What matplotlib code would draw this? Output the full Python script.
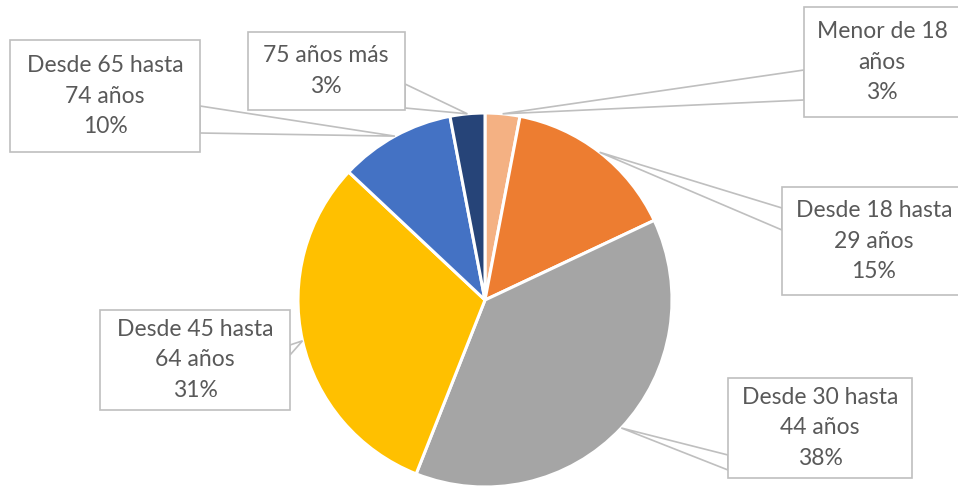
import numpy as np
import matplotlib
matplotlib.use("Agg")
import matplotlib.pyplot as plt
from matplotlib.patches import Rectangle, Polygon

labels = ["Menor de 18\naños", "Desde 18 hasta\n29 años", "Desde 30 hasta\n44 años",
          "Desde 45 hasta\n64 años", "Desde 65 hasta\n74 años", "75 años más"]
values = [3, 15, 38, 31, 10, 3]
colors = ["#F4B183", "#ED7D31", "#A5A5A5", "#FFC000", "#4472C4", "#264478"]

W, H = 958, 491
fig = plt.figure(figsize=(W / 100, H / 100), dpi=100)
ax = fig.add_axes([0, 0, 1, 1])

cx, cy, r = 485, H - 300, 187
wedges, _ = ax.pie(values, colors=colors, startangle=90, counterclock=False,
                   center=(cx, cy), radius=r, frame=True,
                   wedgeprops=dict(edgecolor="white", linewidth=2.2))
ax.set_xlim(0, W)
ax.set_ylim(0, H)
ax.set_aspect("equal")
ax.axis("off")

# box layout in image pixel coordinates
boxes = [
    dict(x0=804, y0=7, x1=962, y1=117, tx=882, lead=[(804, 70), (804, 100)]),
    dict(x0=782, y0=187, x1=966, y1=295, tx=874, lead=[(782, 208), (782, 230)]),
    dict(x0=728, y0=378, x1=912, y1=478, tx=820, lead=[(728, 455), (728, 470)]),
    dict(x0=100, y0=310, x1=290, y1=410, tx=195, lead=[(290, 345), (290, 355)]),
    dict(x0=10, y0=40, x1=200, y1=152, tx=105, lead=[(200, 106), (200, 133)]),
    dict(x0=248, y0=32, x1=405, y1=110, tx=326, lead=[(405, 84), (405, 108)]),
]

grey_edge = "#BFBFBF"
txt_color = "#595959"
for w, lab, v, b in zip(wedges, labels, values, boxes):
    ang = np.deg2rad((w.theta1 + w.theta2) / 2)
    ax_pt = (cx + r * np.cos(ang), cy + r * np.sin(ang))
    p1 = (b["lead"][0][0], H - b["lead"][0][1])
    p2 = (b["lead"][1][0], H - b["lead"][1][1])
    ax.add_patch(Polygon([ax_pt, p1, p2], closed=True, facecolor="white",
                         edgecolor=grey_edge, linewidth=1.2, zorder=3))
    ax.add_patch(Rectangle((b["x0"], H - b["y1"]), b["x1"] - b["x0"], b["y1"] - b["y0"],
                           facecolor="white", edgecolor=grey_edge, linewidth=1.2, zorder=4))
    ax.text(b["tx"], H - (b["y0"] + b["y1"]) / 2, f"{lab}\n{v}%", ha="center", va="center",
            fontsize=16.5, color=txt_color, family="Lato", linespacing=1.55, zorder=5)

fig.savefig("out.png", dpi=100)
